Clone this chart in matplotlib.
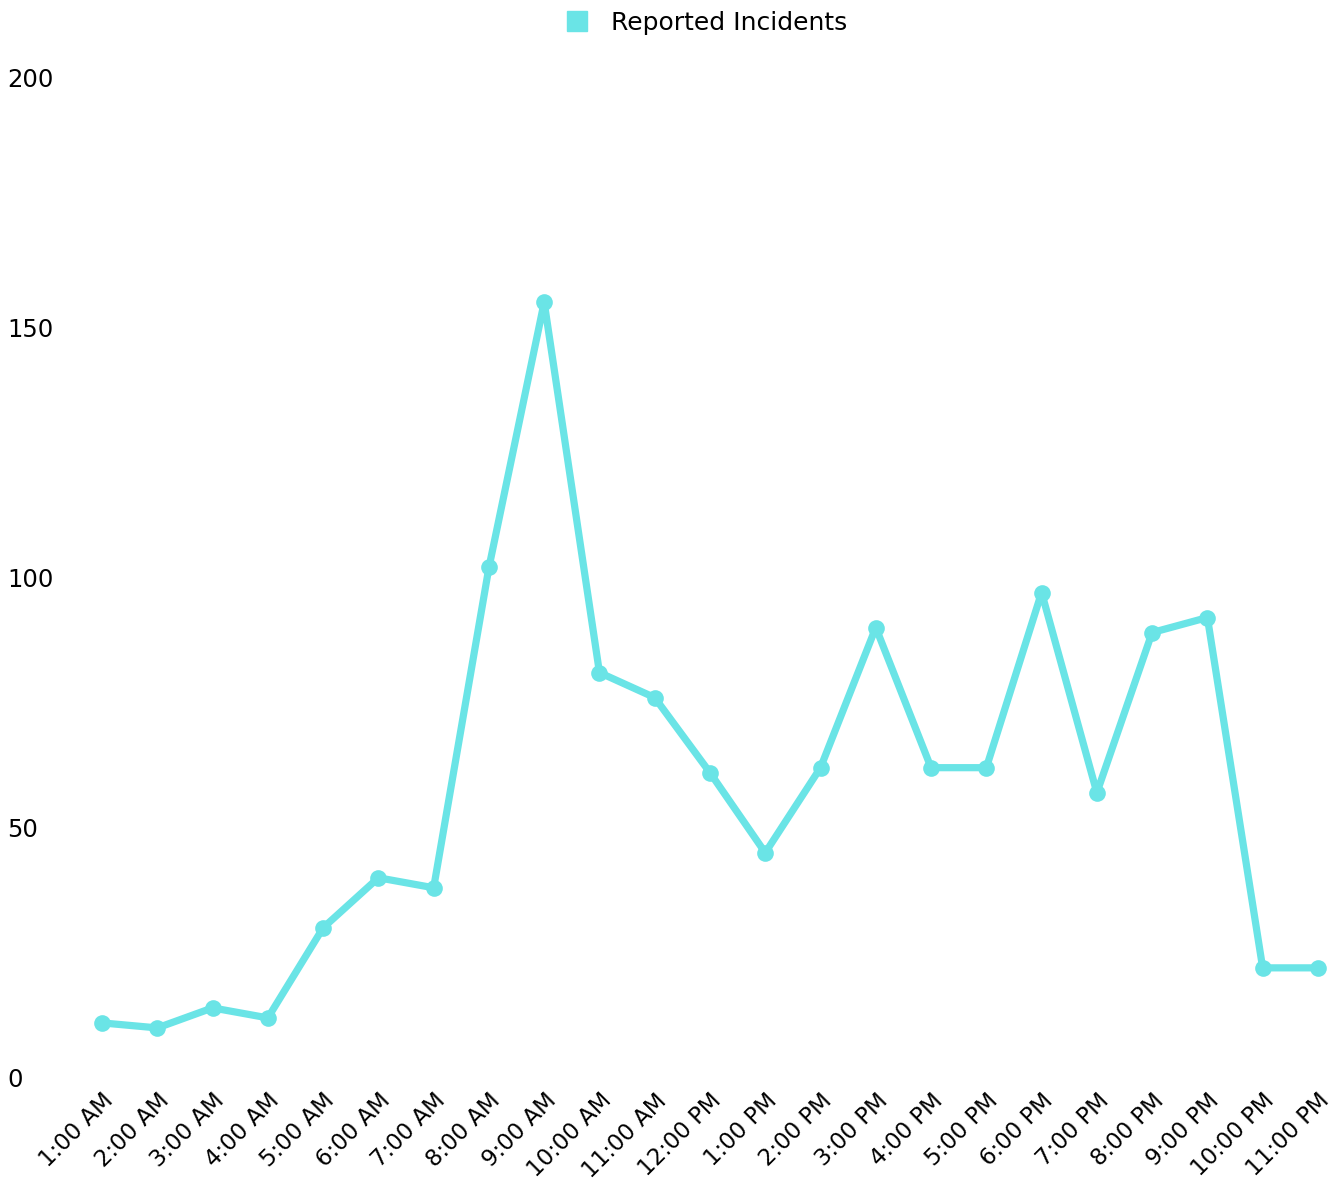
import matplotlib
matplotlib.use("Agg")
import matplotlib.pyplot as plt
from matplotlib.lines import Line2D

hours = ["1:00 AM", "2:00 AM", "3:00 AM", "4:00 AM", "5:00 AM", "6:00 AM",
         "7:00 AM", "8:00 AM", "9:00 AM", "10:00 AM", "11:00 AM", "12:00 PM",
         "1:00 PM", "2:00 PM", "3:00 PM", "4:00 PM", "5:00 PM", "6:00 PM",
         "7:00 PM", "8:00 PM", "9:00 PM", "10:00 PM", "11:00 PM"]
incidents = [11, 10, 14, 12, 30, 40, 38, 102, 155, 81, 76, 61,
             45, 62, 90, 62, 62, 97, 57, 89, 92, 22, 22]
y_ticks = [0, 50, 100, 150, 200]

LINE_COLOR = "#6ae4e6"
plt.rcParams["font.family"] = ["DejaVu Sans"]

fig = plt.figure(figsize=(13.41, 11.89), dpi=100)
ax = fig.add_axes([0.0761, 0.0934, 0.9828 - 0.0761, 0.9352 - 0.0934])

x = list(range(len(hours)))
ax.plot(x, incidents, color=LINE_COLOR, linewidth=5.2, marker="o",
        markersize=12, markeredgewidth=0, solid_joinstyle="round",
        clip_on=False)

ax.set_xlim(0, len(hours) - 1)
ax.set_ylim(0, 200)
ax.set_xticks(x)
ax.set_xticklabels(hours, rotation=45, ha="right", va="top",
                   rotation_mode="anchor", fontsize=16.5)
ax.set_yticks(y_ticks)
ax.set_yticklabels([str(v) for v in y_ticks], fontsize=17.5)
for lbl in ax.get_yticklabels():
    lbl.set_horizontalalignment("left")
ax.tick_params(axis="y", length=0, pad=68)
ax.tick_params(axis="x", length=0, pad=8)
for s in ax.spines.values():
    s.set_visible(False)

# legend sits centred above the plot area
handle = Line2D([], [], color=LINE_COLOR, marker="s", linestyle="none",
                markersize=15)
fig.legend([handle], ["Reported Incidents"], loc="center",
           bbox_to_anchor=(0.5245, 0.9807), frameon=False, fontsize=18,
           handletextpad=0.65, handlelength=1.4)

fig.savefig("out.png", dpi=100)
